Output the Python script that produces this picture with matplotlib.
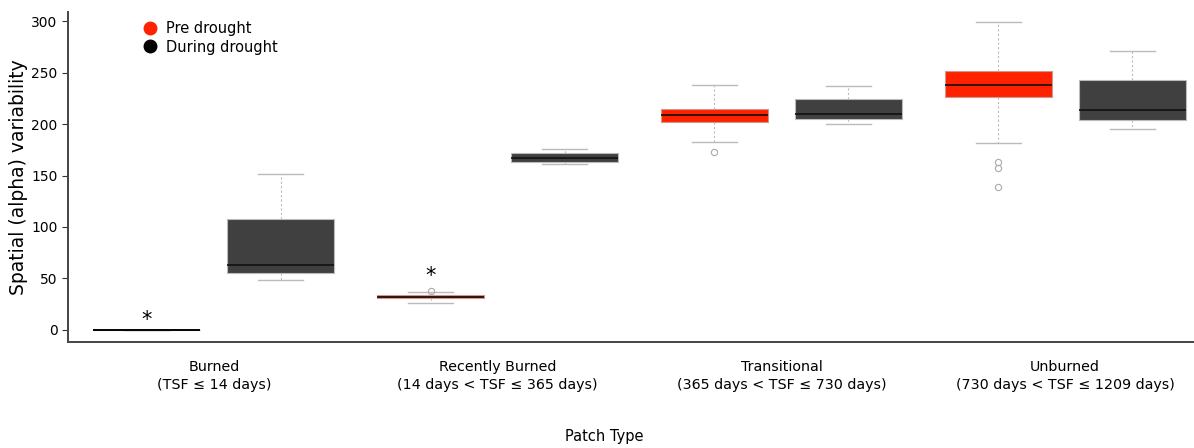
import matplotlib
matplotlib.use("Agg")
import matplotlib.pyplot as plt
from matplotlib.lines import Line2D

# Patch types and their two-line labels
groups = ["Burned", "Recently Burned", "Transitional", "Unburned"]
group_labels = [
    "Burned\n(TSF \u2264 14 days)",
    "Recently Burned\n(14 days < TSF \u2264 365 days)",
    "Transitional\n(365 days < TSF \u2264 730 days)",
    "Unburned\n(730 days < TSF \u2264 1209 days)",
]

# Box summaries per patch type: pre drought
pre_whislo = [0, 26, 183, 182]
pre_q1 = [0, 30.5, 202, 226]
pre_med = [0, 32, 208.5, 238.5]
pre_q3 = [0, 33.5, 215, 252]
pre_whishi = [0, 36.5, 238.5, 299]
pre_fliers = [[], [38], [172.5], [163.5, 157, 138.5]]

# Box summaries per patch type: during drought
dur_whislo = [48, 161, 200.5, 195]
dur_q1 = [55.5, 163.5, 205.5, 204.5]
dur_med = [63, 167.5, 210, 214]
dur_q3 = [108, 171.5, 224, 242.5]
dur_whishi = [152, 176, 237.5, 271]
dur_fliers = [[], [], [], []]

# significance marks above the pre drought boxes
star_y = {"Burned": 10, "Recently Burned": 52}

pre_color = "#ff2200"
dur_color = "#404040"


def make_stats(lo, q1, med, q3, hi, fl):
    return [dict(whislo=a, q1=b, med=c, q3=d, whishi=e, fliers=f)
            for a, b, c, d, e, f in zip(lo, q1, med, q3, hi, fl)]


fig = plt.figure(figsize=(11.94, 4.48), dpi=100)
ax = fig.add_axes([0.057, 0.237, 0.943, 0.736])

pos = list(range(len(groups)))
offset = 0.236
width = 0.377

for stats, color, shift, edge in [
    (make_stats(pre_whislo, pre_q1, pre_med, pre_q3, pre_whishi, pre_fliers), pre_color, -offset, "#cc9990"),
    (make_stats(dur_whislo, dur_q1, dur_med, dur_q3, dur_whishi, dur_fliers), dur_color, offset, "#bbbbbb"),
]:
    ax.bxp(
        stats,
        positions=[p + shift for p in pos],
        widths=width,
        patch_artist=True,
        boxprops=dict(facecolor=color, edgecolor=edge, linewidth=0.8),
        medianprops=dict(color="#111111", linewidth=1.2),
        whiskerprops=dict(color="#bbbbbb", linewidth=0.8, linestyle=(0, (2, 2))),
        capprops=dict(color="#bbbbbb", linewidth=1.0),
        capwidths=width * 0.42,
        flierprops=dict(marker="o", markersize=4.5, markerfacecolor="none",
                        markeredgecolor="#aaaaaa", markeredgewidth=0.8),
        manage_ticks=False,
    )

# the all-zero burned box collapses to a flat black line
ax.hlines(pre_med[0], pos[0] - offset - width / 2, pos[0] - offset + width / 2,
          color="black", linewidth=1.2, zorder=3)

for g, y in star_y.items():
    ax.text(groups.index(g) - offset, y, "*", ha="center", va="center", fontsize=15)

ax.set_xlim(-0.514, 3.454)
ax.set_ylim(-11.7, 309)
ax.set_yticks([0, 50, 100, 150, 200, 250, 300])
ax.tick_params(axis="y", labelsize=10, length=4, color="#333333")
ax.set_xticks(pos)
ax.set_xticklabels(group_labels, fontsize=10.3, linespacing=1.35)
ax.tick_params(axis="x", length=0, pad=13)

ax.set_ylabel("Spatial (alpha) variability", fontsize=13.5)
ax.yaxis.set_label_coords(-0.036, 0.5)
ax.set_xlabel("Patch Type", fontsize=10.5)
ax.xaxis.set_label_coords(0.476, -0.265)

for side in ["top", "right"]:
    ax.spines[side].set_visible(False)
for side in ["left", "bottom"]:
    ax.spines[side].set_color("#444444")
    ax.spines[side].set_linewidth(1.4)

handles = [
    Line2D([], [], marker="o", linestyle="none", markersize=9,
           markerfacecolor=pre_color, markeredgecolor=pre_color, label="Pre drought"),
    Line2D([], [], marker="o", linestyle="none", markersize=9,
           markerfacecolor="black", markeredgecolor="black", label="During drought"),
]
ax.legend(handles=handles, loc="upper left", bbox_to_anchor=(0.048, 1.013),
          frameon=False, fontsize=10.5, handletextpad=0.1, labelspacing=0.25)

fig.savefig("out.png", dpi=100)
